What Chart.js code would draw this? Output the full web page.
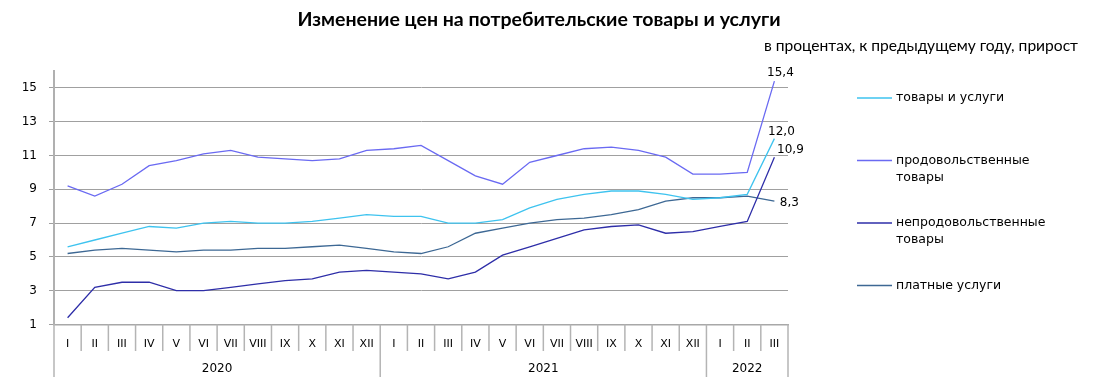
<!DOCTYPE html>
<html>
<head>
<meta charset="utf-8">
<script src="https://cdn.jsdelivr.net/npm/chart.js@4"></script>
<style>
  html, body { margin: 0; padding: 0; background: #fff; }
  #wrap { position: relative; width: 1094px; height: 386px; }
</style>
</head>
<body>
<div id="wrap"><canvas id="priceChart"></canvas></div>
<script>
const months = ["I", "II", "III", "IV", "V", "VI", "VII", "VIII", "IX", "X", "XI", "XII",
                "I", "II", "III", "IV", "V", "VI", "VII", "VIII", "IX", "X", "XI", "XII",
                "I", "II", "III"];
const yearLabels = ["2020", "2021", "2022"];
const yearSpans = [12, 12, 3];
const yTicks = [1, 3, 5, 7, 9, 11, 13, 15];

const goodsServices = [5.6, 6.0, 6.4, 6.8, 6.7, 7.0, 7.1, 7.0, 7.0, 7.1, 7.3, 7.5,
                       7.4, 7.4, 7.0, 7.0, 7.2, 7.9, 8.4, 8.7, 8.9, 8.9, 8.7, 8.4,
                       8.5, 8.7, 12.0];
const food = [9.2, 8.6, 9.3, 10.4, 10.7, 11.1, 11.3, 10.9, 10.8, 10.7, 10.8, 11.3,
              11.4, 11.6, 10.7, 9.8, 9.3, 10.6, 11.0, 11.4, 11.5, 11.3, 10.9, 9.9,
              9.9, 10.0, 15.4];
const nonFood = [1.4, 3.2, 3.5, 3.5, 3.0, 3.0, 3.2, 3.4, 3.6, 3.7, 4.1, 4.2,
                 4.1, 4.0, 3.7, 4.1, 5.1, 5.6, 6.1, 6.6, 6.8, 6.9, 6.4, 6.5,
                 6.8, 7.1, 10.9];
const services = [5.2, 5.4, 5.5, 5.4, 5.3, 5.4, 5.4, 5.5, 5.5, 5.6, 5.7, 5.5,
                  5.3, 5.2, 5.6, 6.4, 6.7, 7.0, 7.2, 7.3, 7.5, 7.8, 8.3, 8.5,
                  8.5, 8.6, 8.3];

const seriesNames = [["товары и услуги"], ["продовольственные", "товары"],
                     ["непродовольственные", "товары"], ["платные услуги"]];
const seriesColors = ["#3ec3ef", "#6a6af2", "#2e2ea8", "#3d6894"];
// where the last-value label sits relative to the last point
const labelOffsets = [[7, -7], [6, -8], [16, -7], [15, 2]];

const fmt = v => v.toFixed(1).replace(".", ",");

// pick a font size so the text spans roughly the width seen in the reference
function fitFont(ctx, text, weight, family, width) {
  ctx.font = weight + " 20px " + family;
  const size = 20 * width / ctx.measureText(text).width;
  ctx.font = weight + " " + size.toFixed(1) + "px " + family;
}

const decor = {
  id: "decor",
  afterDraw(chart) {
    const { ctx, chartArea: a, scales: { x } } = chart;
    const step = x.getPixelForValue(1) - x.getPixelForValue(0);
    ctx.save();

    // month labels
    ctx.fillStyle = "#000";
    ctx.textAlign = "center";
    ctx.textBaseline = "middle";
    ctx.font = '11px "DejaVu Sans"';
    months.forEach((m, i) => ctx.fillText(m, x.getPixelForValue(i), 344));

    // separators
    const yearBounds = [0];
    yearSpans.forEach(s => yearBounds.push(yearBounds[yearBounds.length - 1] + s));
    ctx.strokeStyle = "#b4b4b4";
    ctx.lineWidth = 1.5;
    for (let i = 0; i <= months.length; i++) {
      const px = x.getPixelForValue(i) - step / 2;
      const bottom = yearBounds.includes(i) ? 377 : 351;
      ctx.beginPath();
      ctx.moveTo(px, a.bottom);
      ctx.lineTo(px, bottom);
      ctx.stroke();
    }

    // year labels
    ctx.font = '12px "DejaVu Sans"';
    yearLabels.forEach((lab, k) => {
      const c = (x.getPixelForValue(yearBounds[k]) + x.getPixelForValue(yearBounds[k + 1] - 1)) / 2;
      ctx.fillText(lab, c, 369);
    });

    // last-value labels
    ctx.font = '12px "DejaVu Sans"';
    chart.data.datasets.forEach((ds, k) => {
      const meta = chart.getDatasetMeta(k);
      const pt = meta.data[meta.data.length - 1];
      ctx.fillText(fmt(ds.data[ds.data.length - 1]), pt.x + labelOffsets[k][0], pt.y + labelOffsets[k][1]);
    });

    // legend
    ctx.textAlign = "left";
    ctx.font = '12.5px "DejaVu Sans"';
    chart.data.datasets.forEach((ds, k) => {
      const ly = 98 + k * 62.5;
      ctx.strokeStyle = ds.borderColor;
      ctx.lineWidth = 1.5;
      ctx.beginPath();
      ctx.moveTo(857, ly);
      ctx.lineTo(892, ly);
      ctx.stroke();
      ctx.fillStyle = "#000";
      seriesNames[k].forEach((t, j) => ctx.fillText(t, 896, ly + j * 17));
    });

    // title and subtitle
    const title = "Изменение цен на потребительские товары и услуги";
    const sub = "в процентах, к предыдущему году, прирост";
    ctx.textAlign = "center";
    fitFont(ctx, title, "bold", "Lato", 482);
    ctx.fillText(title, 539, 20);
    ctx.textAlign = "right";
    fitFont(ctx, sub, "normal", "Lato", 315);
    ctx.fillText(sub, 1078, 46);

    ctx.restore();
  }
};

const series = [goodsServices, food, nonFood, services];

new Chart(document.getElementById("priceChart"), {
  type: "line",
  data: {
    labels: months,
    datasets: series.map((d, k) => ({
      label: seriesNames[k].join(" "),
      data: d,
      borderColor: seriesColors[k],
      borderWidth: 1.3,
      pointRadius: 0,
      tension: 0,
      fill: false,
    })),
  },
  options: {
    responsive: true,
    maintainAspectRatio: false,
    animation: false,
    layout: { padding: { left: 0, top: 71, right: 306, bottom: 0 } },
    scales: {
      x: {
        offset: true,
        afterFit(s) { s.height = 61.5; },
        ticks: { display: false },
        grid: { display: false },
        border: { color: "#a8a8a8", width: 1.5 },
      },
      y: {
        min: 1,
        max: 16,
        afterBuildTicks(s) { s.ticks = yTicks.map(v => ({ value: v })); },
        afterFit(s) { s.width = 54; },
        ticks: { color: "#000", padding: 12, font: { family: "DejaVu Sans", size: 12 } },
        grid: { color: "#a0a0a0", lineWidth: 1, tickLength: 5, tickColor: "#a0a0a0" },
        border: { color: "#b0b0b0", width: 2 },
      },
    },
    plugins: {
      legend: { display: false },
      title: { display: false },
      tooltip: { enabled: false },
    },
  },
  plugins: [decor],
});
</script>
</body>
</html>
